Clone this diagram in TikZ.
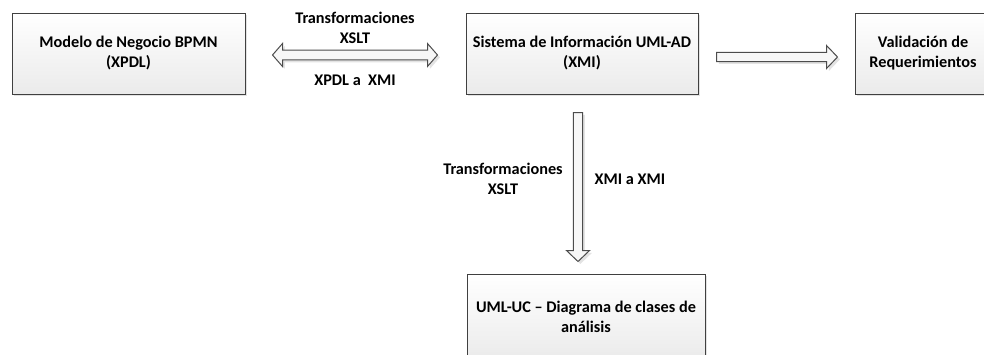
\documentclass[tikz,border=0pt]{standalone}
\usepackage{fontspec}
\setmainfont{Carlito}
\usetikzlibrary{calc,shadows}

\tikzset{
  every node/.style={font=\fontsize{12.2}{15}\selectfont\bfseries},
  box/.style={draw=black!75, line width=0.75pt, inner sep=0pt, align=center,
    top color=white, bottom color=black!8,
    drop shadow={shadow xshift=1.8pt, shadow yshift=-1.8pt, fill=black!22}},
  blockarr/.style={draw=black!70, line width=0.75pt, fill=black!3, line join=miter,
    drop shadow={shadow xshift=1.8pt, shadow yshift=-1.8pt, fill=black!22}},
  lbl/.style={align=center},
}

% block arrow from #1 to #2
\newcommand{\blockarrow}[2]{%
  \coordinate (ba-h) at ($(#2)!8.2pt!(#1)$);
  \draw[blockarr] ($(#1)!3.4pt!90:(#2)$) -- ($(ba-h)!3.4pt!90:(#2)$)
    -- ($(ba-h)!8.6pt!90:(#2)$) -- (#2) -- ($(ba-h)!8.6pt!-90:(#2)$)
    -- ($(ba-h)!3.4pt!-90:(#2)$) -- ($(#1)!3.4pt!-90:(#2)$) -- cycle;
}
% block arrow with a head at both ends
\newcommand{\dblockarrow}[2]{%
  \coordinate (ba-a) at ($(#1)!7.5pt!(#2)$);
  \coordinate (ba-b) at ($(#2)!7.5pt!(#1)$);
  \draw[blockarr] (#1) -- ($(ba-a)!8.6pt!90:(#2)$) -- ($(ba-a)!3.7pt!90:(#2)$)
    -- ($(ba-b)!3.7pt!90:(#2)$) -- ($(ba-b)!8.6pt!90:(#2)$) -- (#2)
    -- ($(ba-b)!8.6pt!-90:(#2)$) -- ($(ba-b)!3.7pt!-90:(#2)$)
    -- ($(ba-a)!3.7pt!-90:(#2)$) -- ($(ba-a)!8.6pt!-90:(#2)$) -- cycle;
}

\begin{document}
\begin{tikzpicture}[x=0.75pt, y=-0.75pt]
    \clip (0,0) rectangle (984,354);
    \useasboundingbox (0,0) rectangle (984,354);

    % Draw the boxes
    \node[box, minimum width=174.75pt, minimum height=60.75pt] (bpmn) at (128.5,53.5)
        {Modelo de Negocio BPMN\\(XPDL)};
    \node[box, minimum width=174pt, minimum height=60.75pt] (umlad) at (582,53.5)
        {Sistema de Información UML-AD\\(XMI)};
    \node[box, minimum width=102pt, minimum height=60.75pt] (valid) at (923,53.5)
        {Validación de\\Requerimientos};
    \node[box, minimum width=178.5pt, minimum height=64.5pt] (umluc) at (586,317)
        {UML-UC – Diagrama de clases de\\análisis};

    % Arrow ends
    \coordinate (xpdl-a) at ($(bpmn.east)+(27,1.5)$);
    \coordinate (xpdl-b) at ($(umlad.west)+(-28,1.5)$);
    \coordinate (val-a) at ($(umlad.east)+(18,3.5)$);
    \coordinate (val-b) at ($(valid.west)+(-17,3.5)$);
    \coordinate (xmi-a) at ($(umlad.south)+(-4,18)$);
    \coordinate (xmi-b) at ($(umluc.north)+(-8,-12)$);

    % Draw the arrows
    \dblockarrow{xpdl-a}{xpdl-b}
    \blockarrow{val-a}{val-b}
    \blockarrow{xmi-a}{xmi-b}

    % Label arrows
    \node[lbl] (xslt1) at (355,27.5) {Transformaciones\\XSLT};
    \node[lbl] (xpdl2xmi) at (355,80) {XPDL a\ \ XMI};
    \node[lbl] (xslt2) at (503,178.5) {Transformaciones\\XSLT};
    \node[lbl, anchor=west] (xmi2xmi) at (590,179) {XMI a XMI};

\end{tikzpicture}
\end{document}
